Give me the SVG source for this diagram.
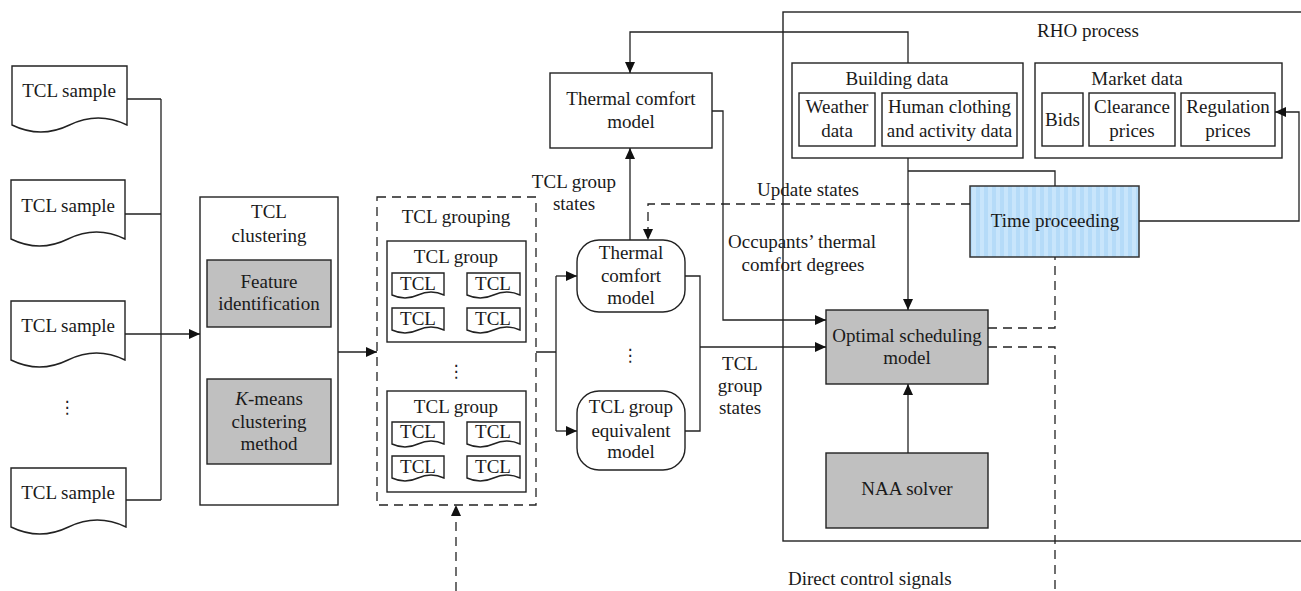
<svg xmlns="http://www.w3.org/2000/svg" width="1301" height="591" viewBox="0 0 1301 591">
<defs>
<style>
text{font-family:"Liberation Serif","Times New Roman",serif;font-size:19px;fill:#1a1a1a;text-anchor:middle}
.box{fill:#fff;stroke:#222;stroke-width:1.4}
.gray{fill:#c0c0c0;stroke:#222;stroke-width:1.4}
.ln{fill:none;stroke:#222;stroke-width:1.3}
.dash{fill:none;stroke:#222;stroke-width:1.3;stroke-dasharray:9,6}
.dots{font-family:"DejaVu Sans",sans-serif;font-size:17px}
</style>
<marker id="arr" markerUnits="userSpaceOnUse" markerWidth="12" markerHeight="10" refX="11" refY="5" orient="auto">
<path d="M0,0 L11,5 L0,10 Z" fill="#111"/>
</marker>
<pattern id="stripes" patternUnits="userSpaceOnUse" width="8" height="10">
<rect width="8" height="10" fill="#c8e5fb"/>
<rect width="4" height="10" fill="#b5dbf8"/>
</pattern>
</defs>
<rect width="1301" height="591" fill="#fff"/>

<g id="rho">
<rect x="783" y="12" width="530" height="529" style="fill:none;stroke:#222;stroke-width:1.4"/>
<text x="1088" y="37">RHO process</text>
</g>

<g id="samples">
<g id="sample1">
<path class="box" d="M12,66 H127 V125 Q98.25,111 69.5,125 T12,125 Z"/>
<text x="69" y="97">TCL sample</text>
</g>
<g id="sample2">
<path class="box" d="M11,180 H125 V239 Q96.5,225 68,239 T11,239 Z"/>
<text x="68" y="212">TCL sample</text>
</g>
<g id="sample3">
<path class="box" d="M11,301 H125 V360 Q96.5,346 68,360 T11,360 Z"/>
<text x="68" y="332">TCL sample</text>
</g>
<text class="dots" x="67" y="413">⋮</text>
<g id="sample4">
<path class="box" d="M11,468 H126 V527 Q97.25,513 68.5,527 T11,527 Z"/>
<text x="68" y="499">TCL sample</text>
</g>
</g>

<g id="clustering">
<rect x="200" y="197" width="138" height="308" class="box"/>
<text x="269" y="218">TCL</text>
<text x="269" y="242">clustering</text>
<rect x="207" y="260" width="124" height="67" class="gray"/>
<text x="269" y="288">Feature</text>
<text x="269" y="310">identification</text>
<rect x="207" y="379" width="124" height="85" class="gray"/>
<text x="269" y="405"><tspan font-style="italic">K</tspan>-means</text>
<text x="269" y="428">clustering</text>
<text x="269" y="450">method</text>
</g>

<g id="grouping">
<rect x="377" y="197" width="159" height="308" class="dash" style="fill:#fff"/>
<text x="456" y="223">TCL grouping</text>
<g id="group1">
<rect x="387" y="241" width="139" height="101" class="box"/>
<text x="456" y="263">TCL group</text>
<path class="box" d="M392,273 H444 V295 Q431,289 418,295 T392,295 Z"/>
<text x="418" y="290">TCL</text>
<path class="box" d="M467,273 H520 V295 Q506.75,289 493.5,295 T467,295 Z"/>
<text x="493" y="290">TCL</text>
<path class="box" d="M392,308 H444 V330 Q431,324 418,330 T392,330 Z"/>
<text x="418" y="325">TCL</text>
<path class="box" d="M467,308 H520 V330 Q506.75,324 493.5,330 T467,330 Z"/>
<text x="493" y="325">TCL</text>
</g>
<text class="dots" x="456" y="377">⋮</text>
<g id="group2">
<rect x="387" y="391" width="139" height="101" class="box"/>
<text x="456" y="413">TCL group</text>
<path class="box" d="M392,422 H444 V444 Q431,438 418,444 T392,444 Z"/>
<text x="418" y="438">TCL</text>
<path class="box" d="M467,422 H520 V444 Q506.75,438 493.5,444 T467,444 Z"/>
<text x="493" y="438">TCL</text>
<path class="box" d="M392,456 H444 V478 Q431,472 418,478 T392,478 Z"/>
<text x="418" y="473">TCL</text>
<path class="box" d="M467,456 H520 V478 Q506.75,472 493.5,478 T467,478 Z"/>
<text x="493" y="473">TCL</text>
</g>
</g>

<g id="thermal-comfort-top">
<rect x="550" y="73" width="162" height="75" class="box"/>
<text x="631" y="105">Thermal comfort</text>
<text x="631" y="128">model</text>
</g>

<g id="thermal-comfort-round">
<rect x="577" y="240" width="108" height="72" rx="22" ry="22" class="box"/>
<text x="631" y="259">Thermal</text>
<text x="631" y="282">comfort</text>
<text x="631" y="304">model</text>
</g>
<text class="dots" x="630" y="361">⋮</text>
<g id="equivalent-model">
<rect x="577" y="391" width="108" height="79" rx="22" ry="22" class="box"/>
<text x="631" y="413">TCL group</text>
<text x="631" y="437">equivalent</text>
<text x="631" y="458">model</text>
</g>

<g id="building-data">
<rect x="792" y="63" width="231" height="95" class="box"/>
<text x="897" y="85">Building data</text>
<rect x="799" y="93" width="76" height="53" class="box"/>
<text x="837" y="113">Weather</text>
<text x="837" y="137">data</text>
<rect x="882" y="93" width="135" height="53" class="box"/>
<text x="949.5" y="113">Human clothing</text>
<text x="949.5" y="137">and activity data</text>
</g>

<g id="market-data">
<rect x="1035" y="63" width="247" height="95" class="box"/>
<text x="1137" y="85">Market data</text>
<rect x="1042" y="93" width="41" height="53" class="box"/>
<text x="1062.5" y="126">Bids</text>
<rect x="1089" y="93" width="86" height="53" class="box"/>
<text x="1132" y="113">Clearance</text>
<text x="1132" y="137">prices</text>
<rect x="1181" y="93" width="94" height="53" class="box"/>
<text x="1228" y="113">Regulation</text>
<text x="1228" y="137">prices</text>
</g>

<g id="time-proceeding">
<rect x="970" y="186" width="169" height="71" fill="url(#stripes)" stroke="#333" stroke-width="1.5"/>
<text x="1055" y="227">Time proceeding</text>
</g>

<g id="optimal-scheduling">
<rect x="826" y="310" width="162" height="74" class="gray"/>
<text x="907" y="342">Optimal scheduling</text>
<text x="907" y="364">model</text>
</g>

<g id="naa-solver">
<rect x="826" y="453" width="162" height="75" class="gray"/>
<text x="907" y="495">NAA solver</text>
</g>

<g id="connectors">
<path class="ln" d="M127,99 H161 M125,214 H161 M126,500 H161 M161,99 V500"/>
<path class="ln" d="M125,334 H200" marker-end="url(#arr)"/>
<path class="ln" d="M338,352 H377" marker-end="url(#arr)"/>
<path class="ln" d="M536,352 H556 M556,276 V431"/>
<path class="ln" d="M556,276 H577" marker-end="url(#arr)"/>
<path class="ln" d="M556,431 H577" marker-end="url(#arr)"/>
<path class="ln" d="M685,276 H700 V431 H685"/>
<path class="ln" d="M700,347 H826" marker-end="url(#arr)"/>
<path class="ln" d="M630,240 V148" marker-end="url(#arr)"/>
<path class="ln" d="M908,63 V32 H630 V73" marker-end="url(#arr)"/>
<path class="ln" d="M712,111 H723 V320 H826" marker-end="url(#arr)"/>
<path class="ln" d="M908,158 V310" marker-end="url(#arr)"/>
<path class="ln" d="M908,171 H1055 V186"/>
<path class="ln" d="M1139,221 H1299 V112 H1275" marker-end="url(#arr)"/>
<path class="ln" d="M908,453 V384" marker-end="url(#arr)"/>
<path class="dash" d="M970,204 H648 V240" marker-end="url(#arr)"/>
<path class="dash" d="M988,328 H1055 V257"/>
<path class="dash" d="M988,347 H1055 V591"/>
<path class="dash" d="M456,591 V505" marker-end="url(#arr)"/>
</g>

<g id="labels">
<text x="574" y="188">TCL group</text>
<text x="574" y="210">states</text>
<text x="808" y="196">Update states</text>
<text x="802" y="248">Occupants’ thermal</text>
<text x="803" y="271">comfort degrees</text>
<text x="740" y="370">TCL</text>
<text x="740" y="392">group</text>
<text x="740" y="414">states</text>
<text x="788" y="585" style="text-anchor:start">Direct control signals</text>
</g>
</svg>
